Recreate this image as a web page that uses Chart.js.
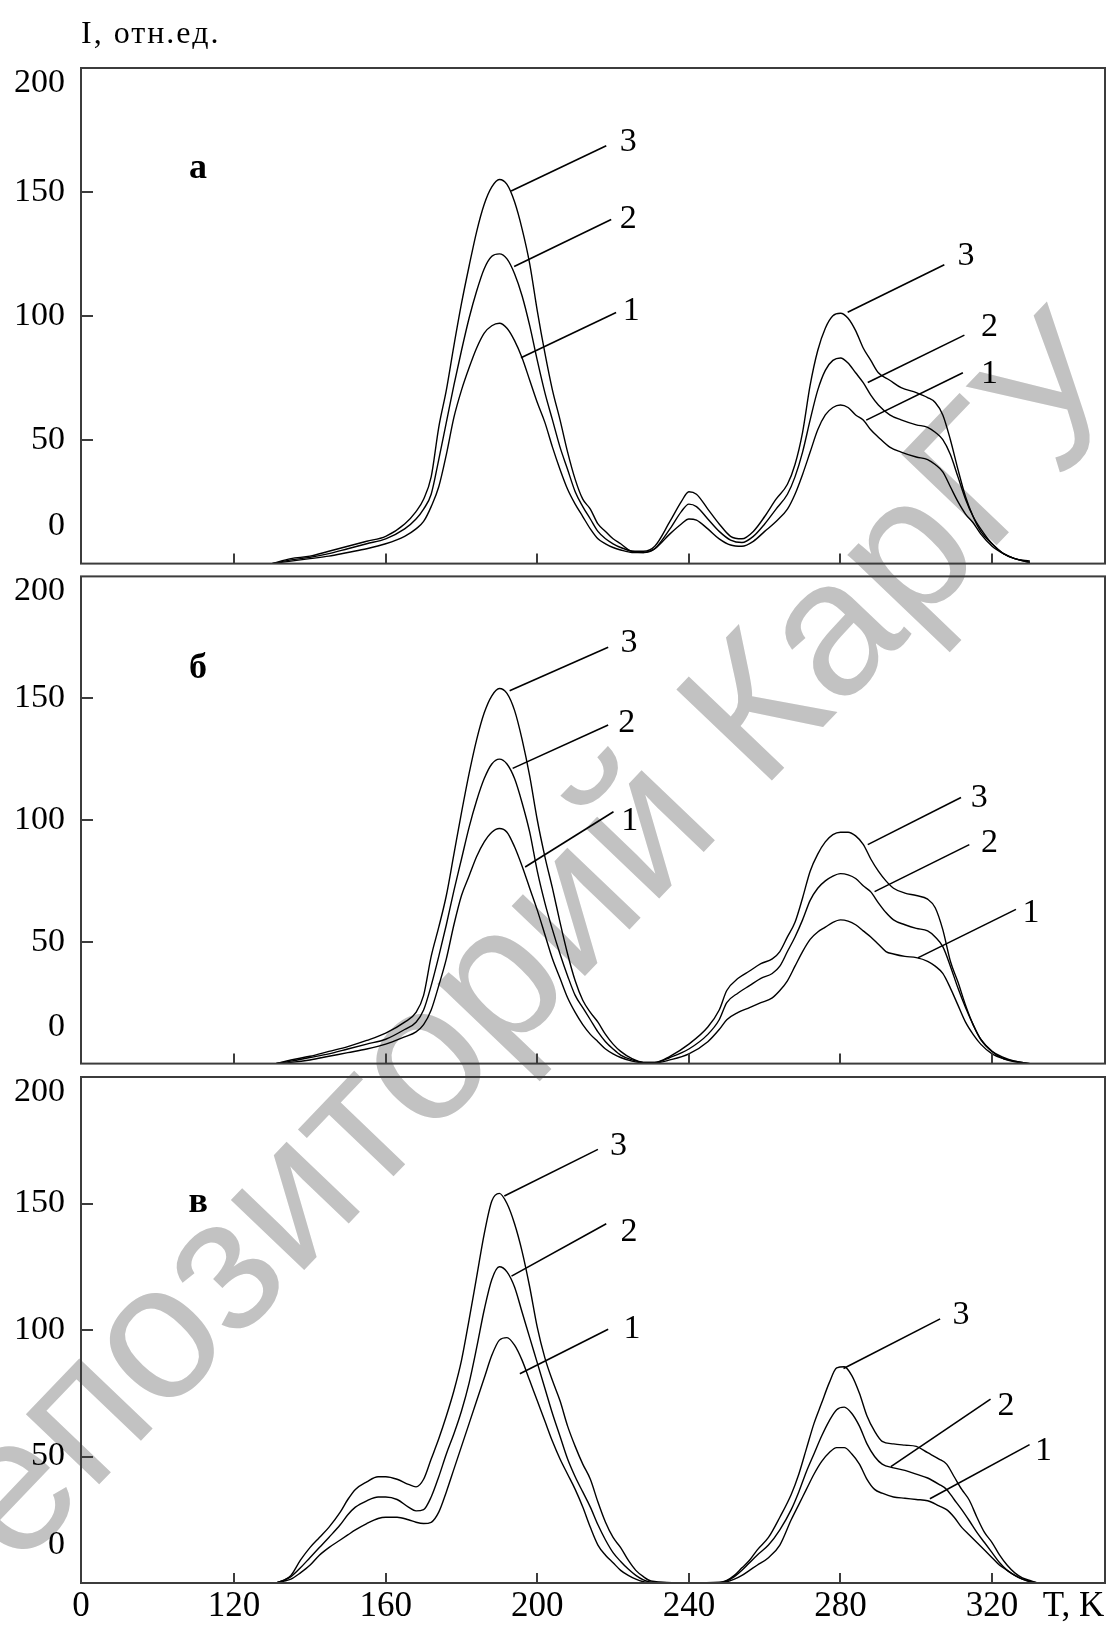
<!DOCTYPE html>
<html>
<head>
<meta charset="utf-8">
<script src="https://cdn.jsdelivr.net/npm/chart.js@4.4.1/dist/chart.umd.min.js"></script>
<style>
  html, body { margin: 0; padding: 0; background: #fff; }
  #page { position: relative; width: 1110px; height: 1627px; overflow: hidden; }
  canvas { position: absolute; left: 0; }
  #wm { position: absolute; left: 490px; top: 980px; transform: translate(-50%, -50%) rotate(-46.3deg);
        font: 192px "Liberation Sans"; color: #c2c2c2; white-space: nowrap; line-height: 1; }
</style>
</head>
<body>
<div id="page">
  <div id="wm">Репозиторий КарГУ</div>
  <canvas id="pa" width="1110" height="600" style="top:0"></canvas>
  <canvas id="pb" width="1110" height="560" style="top:540px"></canvas>
  <canvas id="pc" width="1110" height="587" style="top:1040px"></canvas>
</div>
<script>
// temperature grid and curves 1..3, panel "а"
var tA = [130,135,140,145,150,155,160,165,168,170,172,174,176,178,180,182,184,186,188,190,192,194,196,198,200,202,204,206,208,210,212,214,216,218,220,222,225,228,231,235,238,240,242,245,248,251,254,257,260,263,266,268,270,272,274,276,278,280,282,284,286,288,290,293,296,300,303,305,307,309,311,313,315,317,320,323,326,330];
var a3 = [0,2,3,5,7,9,11, 16,21,26, 35,55,70,88,105,120,134,145,152,155,153, 146,135,121,102,85,70,58,45,34,26,22,16,13,10,8, 5,5,7,17,25,29,28,22,16,11,10,13,19,26,32, 40,53,72,86,95,100,101,99,94,87,82,77, 74,71,69,67,65,60,50,38,27,19,13,8,4,2,1];
var a2 = [0,1.5,2.5,4,6,8,10, 14,18,22, 28,42,57,72,86,99,110,119,124,125,123, 117,108,96,82,69,58,47,38,29,23,18,13,10,8,6.5, 5,4.5,6,14,21,24,23,18,13,9.5,8.5,11,16,22,28, 35,45,58,70,78,82,83,81,77,73,68,64, 60,58,56,55,53,50,44,35,26,19,14,8,4,2,0.5];
var a1 = [0,1,2,3,4.5,6,8, 11,14,17, 23,31,44,59,70,79,87,93,96,97,95, 90,83,74,65,57,47,38,30,24,19,14,10,8,6.5,5.5, 4.5,4.5,6,12,16,18,17.5,14,10,7.5,7,9,13,17,22, 28,36,45,54,60,63,64,63,60,58,54,51, 47,45,43,42,40,37,31,25,20,16.5,12,7,4,2,0.5];

// panel "б"
var tB = [131,135,140,145,150,155,160,165,168,170,172,174,176,178,180,182,184,186,188,190,192,194,196,198,200,202,204,206,208,210,212,214,216,218,220,222,225,228,231,235,240,245,248,250,253,256,259,262,264,266,268,270,272,274,276,278,280,282,284,286,288,290,292,294,297,300,303,305,307,309,311,313,315,317,320,323,326,330];
var b3 = [0,1.5,3,5,7,9.5,12.5, 17,21,28, 44,56,69,86,103,119,133,144,151,154,152, 145,133,118,100,85,72,58,45,34,26,21,17,12,8,5, 2,0.5,0.5,3,8,15,22,30,35,38,41,43, 46,52,58,68,79,86,91,94,95,95,93.5,90,84,79,75,72, 70,69,67.5,64,55,42,33.5,24,16,10,5,2,1,0];
var b2 = [0,1,2.5,4,6,8,10, 14,17,22, 32,44,57,71,84,97,108,117,123,125,123, 117,107,95,79,66,55,45,36,28,23,18,13,9,6,3.5, 1.5,0.5,0.5,2.5,6,12,18,25,29,32,35,37, 40,46,52,59,67,72,75,77,78,77.5,76,73,70.5,66,62,59, 57,55.5,54.5,52,48,40,31,23,16,10,5,2.5,1,0];
var b1 = [0,0.5,1.5,3,4.5,6,8, 11,13,16, 22,32,43,57,69,77,85,91,95,96.5,95, 89,81,72,63,53,43,35,27,21,16,12,9,6,4,2.5, 1,0.3,0.3,1.5,4,9,14,18,21,23,25,27, 30,34,40,46,51,54,56,58,59,58.5,57,54.5,52,49,46,45, 44,43.5,42,40,37,31,24,17,12,8,4,2,0.7,0];

// panel "в"
var tC = [131,133,135,137.5,140,142.5,145,148,150,152, 155,158,160,163,166,168,170, 172,174,176,178,180,182,184,186,188,190,192,194,196,198,200,202,204,206,208,210,212,214,216,218,220,222,224,226,228,230, 240,248, 250,252,254,256,258, 261,264,267,269,271,273,275,277,279,281,283,285,287,289,291, 294,297,300,303,306, 308,310,312,314,316,318,320,322,324,326,328,330,332];
var c3 = [0,1,3,9,14,18,22,28,33,37, 40,42,42,41,39,38,41, 49,57,66,76,88,104,121,138,151,154,150,142,131,117,101,89,80,72,62,54,47,41,32,24,18,14,9,5,2.5,0.8, 0,0.3, 1,3,6,9,13, 18,26,35,43,53,63,71,79,85,85.5,82,75,66,60,56, 55,54.5,54,51.5,49, 47,42,37,32.7,26,20,16,11,7,4,2,1,0];
var c2 = [0,1,2.5,6,10,14,18,23,27,30, 32.5,34,34,33,30,28.5,29, 34,42,51,59,68,79,93,108,120,125,123,117,107,97,87,77,67,58,49,42,36,30,23,17,12,8.5,5.5,3,1.2,0.3, 0,0, 0.8,2.5,5,8,11, 15,21,29,36,44,51,58,64,68.5,69.5,67,62,55,50,47, 45.5,44.5,43,41.5,39, 37,33,29,24.6,20,16,12,8,5,3,1.5,0.7,0];
var c1 = [0,0.7,1.5,4,7,11,14,17,19,21, 23.5,25.5,26,26,25,24,23.5, 24,28,36,45,54,63,72,81,90,96,97,94,88,80,72,64,56,49,43,37,30,22,15,11,8,5,3,1.5,0.5,0, 0,0, 0.5,1.5,3,5,7, 10,15,25,31,37,43,48,51.5,53.5,53.5,51,47,41,37,35.5, 34,33.5,33,32.5,30.5, 29,26,22,19,16,13,10,7,5,3,1.5,0.5,0];

// axis labels (the break "0" and the unit sit on the axis like ticks)
var xTickPos = [79.6, 120, 160, 200, 240, 280, 320, 341.5];
var xTickText = ['0', '120', '160', '200', '240', '280', '320', 'T, K'];
var yTickPos = [15, 50, 100, 150, 194];
var yTickText = ['0', '50', '100', '150', '200'];
var xMarks = [120, 160, 200, 240, 280, 320];
var yMarks = [50, 100, 150];

// curve number callouts: text, line start (T, I), line end, text centre
var notesA = [
  ['3', 193.1, 150.4, 218.2, 168.6, 224.0, 170.2],
  ['2', 193.9, 119.9, 219.5, 138.9, 224.0, 138.9],
  ['1', 195.7, 83.1, 220.8, 101.3, 224.8, 102.1],
  ['3', 281.9, 101.4, 307.4, 120.6, 313.1, 123.9],
  ['2', 287.2, 73.1, 312.7, 92.2, 319.3, 95.5],
  ['1', 286.8, 57.9, 312.3, 77.0, 319.3, 76.4]
];
var notesB = [
  ['3', 192.7, 153.1, 218.7, 170.9, 224.2, 172.5],
  ['2', 193.5, 121.2, 218.7, 139.0, 223.6, 139.8],
  ['1', 196.8, 80.7, 220.1, 103.4, 224.4, 99.7],
  ['3', 287.2, 89.9, 311.8, 109.2, 316.6, 109.2],
  ['2', 289.0, 70.6, 314.0, 89.9, 319.3, 90.5],
  ['1', 300.4, 43.4, 326.3, 63.3, 330.3, 61.9]
];
var notesC = [
  ['3', 191.3, 153.0, 216.0, 171.4, 221.4, 172.6],
  ['2', 193.2, 121.3, 218.2, 142.0, 224.2, 138.7],
  ['1', 195.4, 82.7, 218.7, 100.3, 225.0, 100.3],
  ['3', 280.8, 84.8, 306.3, 104.4, 311.8, 106.0],
  ['2', 293.3, 46.0, 319.6, 72.7, 323.7, 70.0],
  ['1', 303.6, 33.3, 329.9, 54.7, 333.6, 52.0]
];

function decor(notes, letter, letterPos, title) {
  return {
    id: 'decor',
    afterDatasetsDraw: function(chart) {
      var ctx = chart.ctx, a = chart.chartArea, x = chart.scales.x, y = chart.scales.y;
      ctx.save();
      // frame + inward tick marks
      ctx.strokeStyle = '#3c3c3c';
      ctx.lineWidth = 2;
      ctx.strokeRect(a.left, a.top, a.right - a.left, a.bottom - a.top);
      ctx.beginPath();
      xMarks.forEach(function(v) {
        var px = Math.round(x.getPixelForValue(v));
        ctx.moveTo(px, a.bottom); ctx.lineTo(px, a.bottom - 10);
      });
      yMarks.forEach(function(v) {
        var py = Math.round(y.getPixelForValue(v));
        ctx.moveTo(a.left, py); ctx.lineTo(a.left + 12, py);
      });
      ctx.stroke();

      // callouts
      ctx.strokeStyle = '#000';
      ctx.lineWidth = 1.6;
      ctx.fillStyle = '#000';
      ctx.font = '34px "Liberation Serif"';
      ctx.textAlign = 'center';
      ctx.textBaseline = 'middle';
      notes.forEach(function(n) {
        ctx.beginPath();
        ctx.moveTo(x.getPixelForValue(n[1]), y.getPixelForValue(n[2]));
        ctx.lineTo(x.getPixelForValue(n[3]), y.getPixelForValue(n[4]));
        ctx.stroke();
        ctx.fillText(n[0], x.getPixelForValue(n[5]), y.getPixelForValue(n[6]));
      });

      ctx.font = 'bold 36px "Liberation Serif"';
      ctx.fillText(letter, x.getPixelForValue(letterPos[0]), y.getPixelForValue(letterPos[1]));

      if (title) {
        ctx.textAlign = 'left';
        ctx.textBaseline = 'alphabetic';
        ctx.font = '32px "Liberation Serif"';
        ctx.letterSpacing = '2px';
        ctx.fillText(title, a.left, a.top - 25);
      }
      ctx.restore();
    }
  };
}

function makePanel(id, t, curves, padTop, xAxisH, showX, plugin) {
  new Chart(document.getElementById(id), {
    type: 'line',
    data: {
      datasets: curves.map(function(s) {
        return {
          data: t.map(function(v, i) { return { x: v, y: s[i] }; }),
          borderColor: '#000',
          borderWidth: 1.4,
          pointRadius: 0,
          fill: false,
          cubicInterpolationMode: 'monotone'
        };
      })
    },
    options: {
      responsive: false,
      animation: false,
      devicePixelRatio: 1,
      layout: { padding: { top: padTop, right: 5, left: 0, bottom: 0 } },
      plugins: { legend: { display: false }, tooltip: { enabled: false } },
      scales: {
        x: {
          type: 'linear', min: 79.6, max: 349.8,
          grid: { display: false, drawTicks: false },
          border: { display: false },
          afterBuildTicks: function(s) { s.ticks = xTickPos.map(function(v) { return { value: v }; }); },
          afterFit: function(s) { s.height = xAxisH; },
          ticks: {
            display: showX, autoSkip: false, maxRotation: 0, padding: 3, color: '#000',
            font: { family: 'Liberation Serif', size: 35 },
            callback: function(v, i) { return xTickText[i]; }
          }
        },
        y: {
          type: 'linear', min: 0, max: 200,
          grid: { display: false, drawTicks: false },
          border: { display: false },
          afterBuildTicks: function(s) { s.ticks = yTickPos.map(function(v) { return { value: v }; }); },
          afterFit: function(s) { s.width = 81; },
          ticks: {
            autoSkip: false, padding: 16, color: '#000',
            font: { family: 'Liberation Serif', size: 34 },
            callback: function(v, i) { return yTickText[i]; }
          }
        }
      }
    },
    plugins: [plugin]
  });
}

makePanel('pa', tA, [a1, a2, a3], 68, 27, false, decor(notesA, 'а', [110.5, 159.5], 'I, отн.ед.'));
makePanel('pb', tB, [b1, b2, b3], 36, 23, false, decor(notesB, 'б', [110.5, 162.3], null));
makePanel('pc', tC, [c1, c2, c3], 37, 44, true, decor(notesC, 'в', [110.5, 150.4], null));
</script>
</body>
</html>
